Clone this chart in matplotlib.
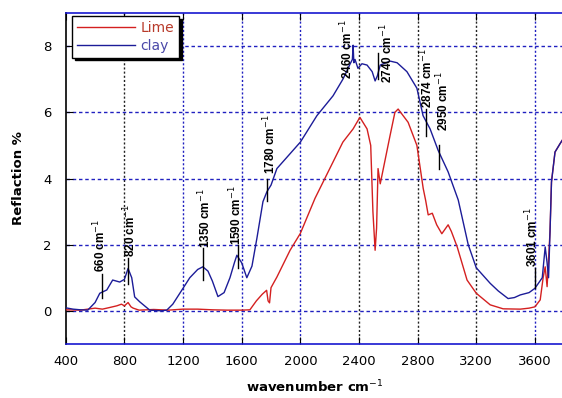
import matplotlib
matplotlib.use("Agg")
import matplotlib.pyplot as plt

plt.rcParams['font.family'] = ['DejaVu Sans']

# ---- data ----
clay_x = [400, 450, 500, 550, 600, 632, 680, 720, 768, 800, 825, 850, 870, 905, 973,
          1050, 1089, 1130, 1178, 1246, 1300, 1335, 1370, 1400, 1438, 1480, 1520, 1550,
          1567, 1600, 1635, 1670, 1704, 1745, 1772, 1800, 1840, 1900, 2000, 2113, 2223,
          2290, 2304, 2340, 2355, 2360, 2365, 2373, 2393, 2420, 2455, 2490, 2510, 2525,
          2545, 2612, 2660, 2727, 2795, 2837, 2885, 2940, 3008, 3077, 3145, 3200, 3295,
          3350, 3417, 3460, 3500, 3560, 3600, 3650, 3670, 3683, 3693, 3703, 3713, 3737,
          3771, 3800]
clay_y = [0.09, 0.05, 0.03, 0.02, 0.25, 0.53, 0.63, 0.93, 0.87, 0.95, 1.28, 1.00, 0.42,
          0.27, 0.02, 0.00, 0.02, 0.20, 0.53, 1.00, 1.25, 1.33, 1.20, 0.90, 0.43, 0.55,
          1.00, 1.45, 1.68, 1.45, 1.00, 1.35, 2.20, 3.30, 3.60, 3.80, 4.30, 4.60, 5.10,
          5.90, 6.50, 7.00, 7.13, 7.47, 7.60, 8.03, 7.50, 7.60, 7.33, 7.47, 7.43, 7.23,
          6.95, 7.10, 7.43, 7.55, 7.50, 7.23, 6.73, 5.90, 5.50, 4.85, 4.20, 3.35, 2.00,
          1.30, 0.83, 0.60, 0.37, 0.40, 0.48, 0.55, 0.68, 1.00, 1.93, 1.45, 1.00, 2.40,
          3.90, 4.80, 5.05, 5.25]

lime_x = [400, 500, 600, 650, 700, 748, 780, 800, 825, 845, 860, 900, 1000, 1100, 1200,
          1300, 1400, 1500, 1600, 1656, 1700, 1740, 1770, 1780, 1790, 1800, 1840, 1930,
          2000, 2100, 2223, 2290, 2360, 2406, 2455, 2480, 2495, 2510, 2520, 2530, 2545,
          2612, 2645, 2667, 2735, 2795, 2838, 2855, 2872, 2900, 2930, 2965, 3008, 3030,
          3070, 3137, 3200, 3295, 3383, 3500, 3560, 3600, 3636, 3656, 3670, 3683, 3703,
          3713, 3737, 3771, 3800]
lime_y = [0.03, 0.02, 0.08, 0.05, 0.10, 0.15, 0.20, 0.15, 0.25, 0.12, 0.08, 0.02, 0.04,
          0.02, 0.05, 0.05, 0.03, 0.02, 0.02, 0.03, 0.30, 0.50, 0.62, 0.30, 0.24, 0.70,
          1.02, 1.83, 2.34, 3.40, 4.50, 5.10, 5.50, 5.85, 5.50, 5.00, 3.00, 1.83, 2.50,
          4.30, 3.84, 5.30, 6.00, 6.10, 5.70, 5.00, 3.70, 3.33, 2.90, 2.95, 2.60, 2.33,
          2.60, 2.40, 1.93, 0.93, 0.53, 0.18, 0.06, 0.05, 0.08, 0.12, 0.33, 1.00, 1.33,
          0.73, 2.40, 3.90, 4.80, 5.05, 5.25]

x_ticks = [400, 800, 1200, 1600, 2000, 2400, 2800, 3200, 3600]
y_ticks = [0, 2, 4, 6, 8]

# peak annotations: label, text x, text bottom y, marker x, marker y0, marker y1
peak_labels = ['660', '820', '1350', '1590', '1780', '2460', '2740', '2874', '2950', '3601']
peak_tx = [632, 840, 1350, 1560, 1790, 2318, 2590, 2865, 2973, 3580]
peak_ty = [1.17, 1.62, 1.89, 1.98, 4.13, 7.0, 6.9, 6.12, 5.43, 1.32]
peak_lx = [650, 825, 1335, 1575, 1775, 2345, 2532, 2860, 2945, 3601]
peak_l0 = [1.10, 1.60, 1.89, 1.98, 4.00, 7.05, 7.80, 6.10, 5.00, 1.30]
peak_l1 = [0.40, 0.80, 0.93, 1.29, 3.33, 7.05, 7.00, 5.30, 4.30, 0.70]

blue = '#1c1c98'
red = '#d42020'

fig = plt.figure(figsize=(5.62, 3.98), dpi=100)
ax = fig.add_axes([0.117, 0.136, 0.887, 0.831])

# grid
vcols = {800: '#222222', 2400: '#222222', 2800: '#222222', 3200: '#222222'}
for xv in x_ticks[1:]:
    ax.axvline(xv, color=vcols.get(xv, '#2020c0'), lw=1.0, ls=(0, (1.5, 1.5)), zorder=1)
for yv in y_ticks:
    ax.axhline(yv, color='#2020c0', lw=1.0, ls=(0, (2.5, 2)), zorder=1)

ax.plot(lime_x, lime_y, color=red, lw=1.0, label='Lime', zorder=3)
ax.plot(clay_x, clay_y, color=blue, lw=1.0, label='clay', zorder=4)

for lab, tx, ty, lx, l0, l1 in zip(peak_labels, peak_tx, peak_ty, peak_lx, peak_l0, peak_l1):
    ax.text(tx, ty, lab + ' cm$^{-1}$', rotation=90, ha='center', va='bottom',
            fontsize=8.5, fontweight='bold', color='black', zorder=6,
            family='Liberation Sans')
    if l0 != l1:
        ax.plot([lx, lx], [l0, l1], color='black', lw=1.0, zorder=5)

ax.set_xlim(400, 3800)
ax.set_ylim(-1, 9)
ax.set_xticks(x_ticks)
ax.set_yticks(y_ticks)
ax.tick_params(axis='both', direction='in', length=5, labelsize=9.5, colors='black',
               top=True, right=False)
ax.tick_params(axis='x', pad=8)
ax.tick_params(axis='y', pad=10)
ax.spines['left'].set_color('black')
ax.spines['top'].set_color('#1818d0')
ax.spines['bottom'].set_color('#1818d0')
ax.spines['right'].set_visible(False)
for s in ax.spines.values():
    s.set_linewidth(1.2)

ax.set_xlabel('wavenumber cm$^{-1}$', fontsize=9.5, fontweight='bold', labelpad=8)
ax.set_ylabel('Reflaction %', fontsize=9.5, fontweight='bold', labelpad=13)

leg = ax.legend(loc='upper left', bbox_to_anchor=(0.012, 0.99), borderaxespad=0,
                frameon=True, fancybox=False,
                shadow={'color': 'black', 'alpha': 1.0},
                edgecolor='black', fontsize=10, framealpha=1.0,
                handlelength=4.2, borderpad=0.35, labelspacing=0.25, handletextpad=0.4)
leg.get_frame().set_linewidth(1.0)
leg.get_texts()[0].set_color('#b83a2a')
leg.get_texts()[1].set_color('#4a48a8')

fig.savefig('out.png', dpi=100)
